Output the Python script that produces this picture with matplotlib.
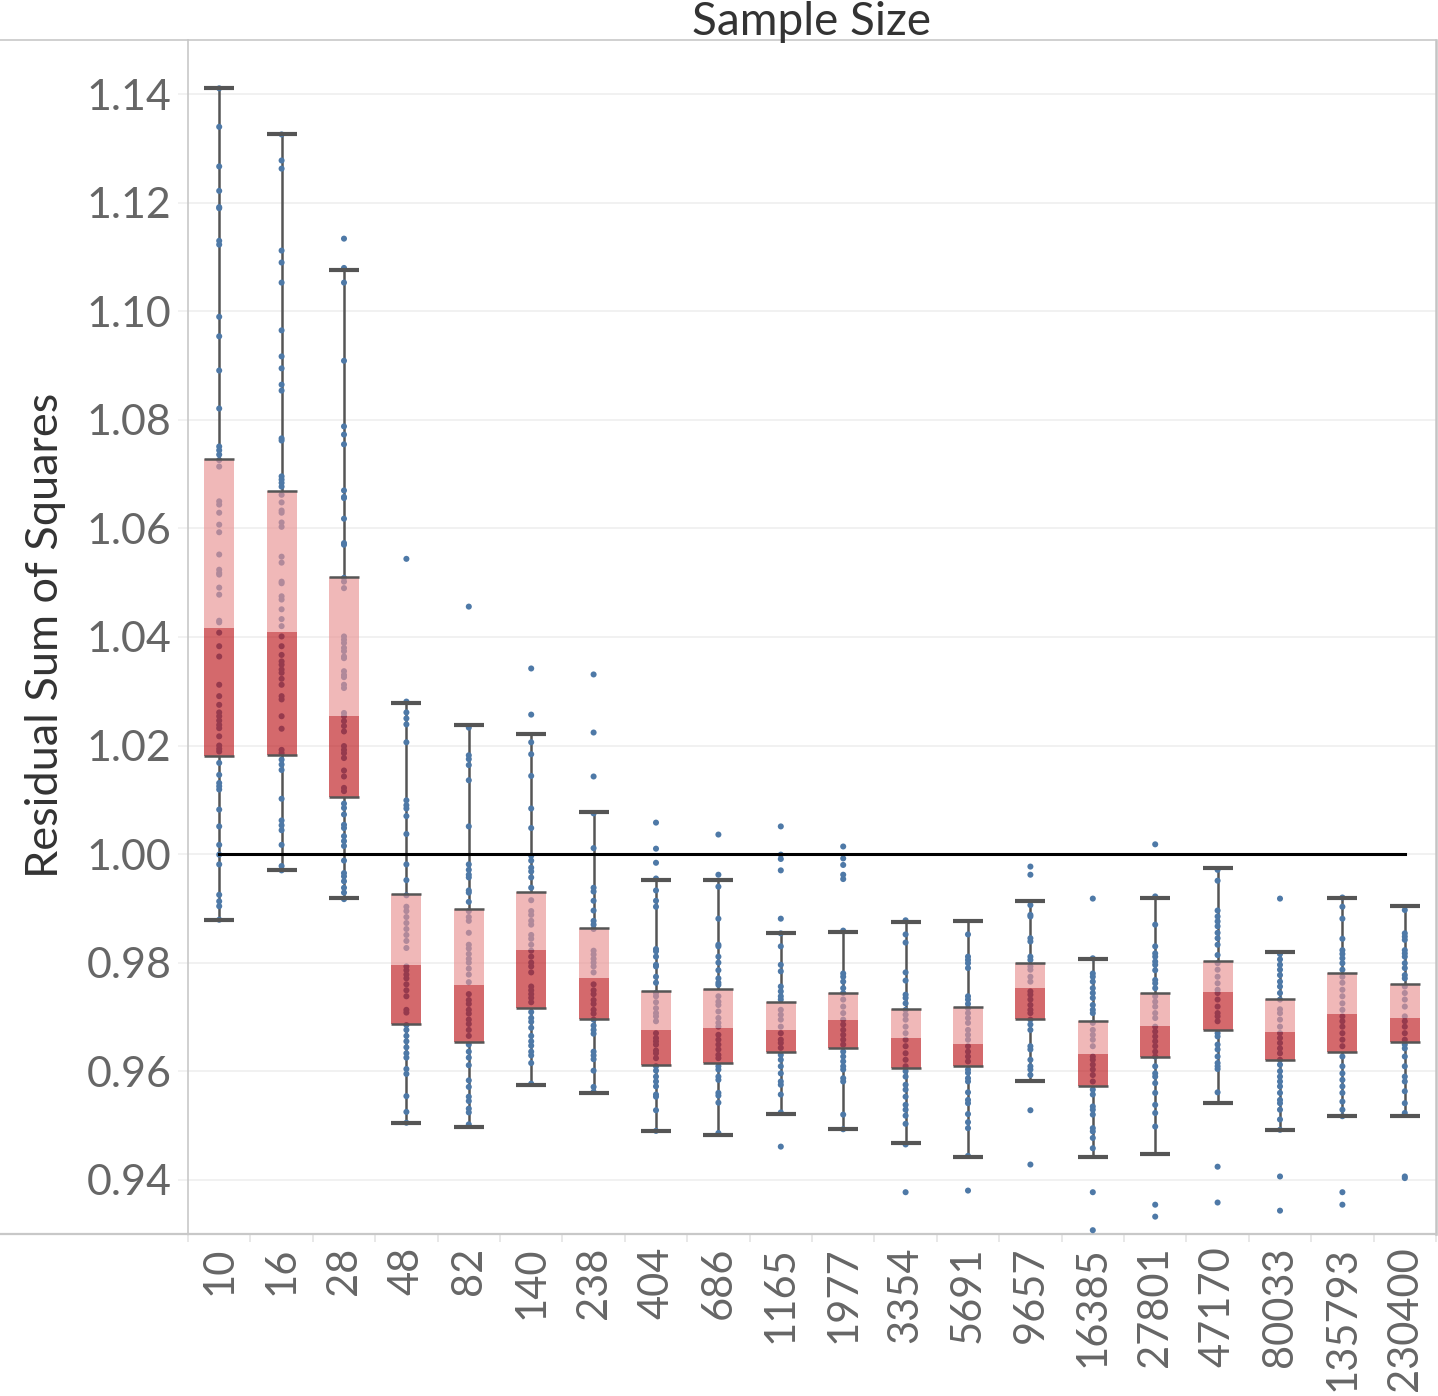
import matplotlib
matplotlib.use("Agg")
import matplotlib.pyplot as plt
from matplotlib.lines import Line2D
import numpy as np

# ---------------- data ----------------
categories = ["10", "16", "28", "48", "82", "140", "238", "404", "686", "1165",
              "1977", "3354", "5691", "9657", "16385", "27801", "47170", "80033",
              "135793", "230400"]

whisker_low = [0.9879, 0.9971, 0.9920, 0.9504, 0.9497, 0.9575, 0.9560, 0.9489, 0.9482, 0.9522,
               0.9493, 0.9467, 0.9441, 0.9581, 0.9441, 0.9448, 0.9541, 0.9492, 0.9518, 0.9518]
q1 = [1.0180, 1.0183, 1.0106, 0.9687, 0.9653, 0.9716, 0.9697, 0.9612, 0.9615, 0.9635,
      0.9642, 0.9606, 0.9609, 0.9697, 0.9572, 0.9627, 0.9675, 0.9620, 0.9635, 0.9653]
median = [1.0416, 1.0409, 1.0254, 0.9795, 0.9758, 0.9824, 0.9772, 0.9676, 0.9679, 0.9676,
          0.9695, 0.9662, 0.9650, 0.9754, 0.9632, 0.9684, 0.9746, 0.9673, 0.9706, 0.9698]
q3 = [1.0728, 1.0669, 1.0511, 0.9926, 0.9899, 0.9930, 0.9863, 0.9748, 0.9752, 0.9727,
      0.9744, 0.9715, 0.9719, 0.9800, 0.9693, 0.9744, 0.9803, 0.9733, 0.9781, 0.9760]
whisker_high = [1.1411, 1.1326, 1.1076, 1.0278, 1.0237, 1.0222, 1.0078, 0.9953, 0.9953, 0.9854,
                0.9857, 0.9875, 0.9876, 0.9913, 0.9806, 0.9920, 0.9975, 0.9820, 0.9920, 0.9905]

pts_10 = [1.1411, 1.1340, 1.1267, 1.1222, 1.1192, 1.1190, 1.1130, 1.1123, 1.0990, 1.0954, 1.0891,
          1.0821, 1.0751, 1.0744, 1.0736, 1.0726, 1.0714, 1.0650, 1.0644, 1.0629, 1.0607, 1.0593,
          1.0552, 1.0524, 1.0518, 1.0515, 1.0491, 1.0478, 1.0430, 1.0427, 1.0408, 1.0383, 1.0364,
          1.0312, 1.0291, 1.0275, 1.0261, 1.0254, 1.0246, 1.0238, 1.0232, 1.0217, 1.0200, 1.0194,
          1.0189, 1.0168, 1.0146, 1.0131, 1.0125, 1.0119, 1.0082, 1.0051, 1.0017, 0.9999, 0.9981,
          0.9925, 0.9913, 0.9904, 0.9879]
pts_16 = [1.1326, 1.1278, 1.1263, 1.1112, 1.1090, 1.1053, 1.0965, 1.0917, 1.0895, 1.0865, 1.0854,
          1.0766, 1.0762, 1.0696, 1.0690, 1.0684, 1.0677, 1.0662, 1.0648, 1.0633, 1.0629, 1.0611,
          1.0603, 1.0548, 1.0537, 1.0502, 1.0499, 1.0475, 1.0469, 1.0451, 1.0433, 1.0420, 1.0401,
          1.0383, 1.0367, 1.0355, 1.0349, 1.0340, 1.0334, 1.0323, 1.0312, 1.0291, 1.0285, 1.0254,
          1.0231, 1.0192, 1.0186, 1.0174, 1.0165, 1.0155, 1.0102, 1.0062, 1.0053, 1.0044, 1.0017,
          0.9978, 0.9970]
pts_28 = [1.1134, 1.1080, 1.1053, 1.0909, 1.0788, 1.0773, 1.0755, 1.0670, 1.0658, 1.0656, 1.0618,
          1.0573, 1.0570, 1.0509, 1.0502, 1.0490, 1.0401, 1.0395, 1.0389, 1.0380, 1.0374, 1.0364,
          1.0361, 1.0337, 1.0330, 1.0326, 1.0312, 1.0306, 1.0260, 1.0254, 1.0245, 1.0236, 1.0226,
          1.0199, 1.0192, 1.0186, 1.0177, 1.0154, 1.0143, 1.0122, 1.0116, 1.0093, 1.0085, 1.0073,
          1.0054, 1.0048, 1.0033, 1.0024, 1.0015, 0.9988, 0.9965, 0.9959, 0.9950, 0.9938, 0.9929,
          0.9917]
pts_48 = [1.0544, 1.0281, 1.0261, 1.0250, 1.0239, 1.0206, 1.0099, 1.0090, 1.0084, 1.0070, 1.0037,
          0.9981, 0.9952, 0.9924, 0.9903, 0.9895, 0.9884, 0.9873, 0.9862, 0.9851, 0.9840, 0.9827,
          0.9793, 0.9786, 0.9778, 0.9771, 0.9760, 0.9749, 0.9738, 0.9713, 0.9708, 0.9685, 0.9676,
          0.9665, 0.9655, 0.9644, 0.9633, 0.9625, 0.9604, 0.9595, 0.9554, 0.9525, 0.9505]
pts_82 = [1.0456, 1.0233, 1.0182, 1.0175, 1.0164, 1.0136, 1.0051, 0.9981, 0.9971, 0.9962, 0.9957,
          0.9933, 0.9929, 0.9912, 0.9895, 0.9884, 0.9877, 0.9855, 0.9833, 0.9826, 0.9816, 0.9807,
          0.9800, 0.9789, 0.9778, 0.9764, 0.9742, 0.9731, 0.9724, 0.9713, 0.9706, 0.9695, 0.9687,
          0.9676, 0.9665, 0.9649, 0.9636, 0.9625, 0.9611, 0.9583, 0.9571, 0.9553, 0.9545, 0.9531,
          0.9524, 0.9502]
pts_140 = [1.0342, 1.0257, 1.0206, 1.0184, 1.0144, 1.0084, 1.0048, 0.9997, 0.9988, 0.9975, 0.9968,
           0.9957, 0.9938, 0.9915, 0.9895, 0.9888, 0.9877, 0.9870, 0.9851, 0.9844, 0.9833, 0.9822,
           0.9811, 0.9800, 0.9793, 0.9782, 0.9756, 0.9749, 0.9742, 0.9735, 0.9727, 0.9709, 0.9698,
           0.9691, 0.9680, 0.9665, 0.9655, 0.9647, 0.9636, 0.9629, 0.9615, 0.9577]
pts_238 = [1.0331, 1.0224, 1.0143, 1.0075, 1.0011, 0.9938, 0.9931, 0.9914, 0.9896, 0.9877, 0.9870,
           0.9862, 0.9822, 0.9815, 0.9807, 0.9800, 0.9793, 0.9782, 0.9760, 0.9749, 0.9742, 0.9731,
           0.9724, 0.9713, 0.9706, 0.9695, 0.9684, 0.9676, 0.9669, 0.9636, 0.9629, 0.9622, 0.9601,
           0.9571, 0.9562]
pts_404 = [1.0058, 1.0010, 0.9984, 0.9955, 0.9933, 0.9914, 0.9903, 0.9825, 0.9821, 0.9811, 0.9796,
           0.9793, 0.9774, 0.9763, 0.9744, 0.9738, 0.9727, 0.9716, 0.9707, 0.9701, 0.9692, 0.9670,
           0.9661, 0.9655, 0.9649, 0.9638, 0.9633, 0.9624, 0.9609, 0.9601, 0.9590, 0.9581, 0.9572,
           0.9557, 0.9553, 0.9528, 0.9490]
pts_686 = [1.0036, 0.9962, 0.9940, 0.9881, 0.9833, 0.9830, 0.9811, 0.9800, 0.9786, 0.9771, 0.9763,
           0.9759, 0.9738, 0.9728, 0.9722, 0.9710, 0.9698, 0.9689, 0.9682, 0.9667, 0.9658, 0.9649,
           0.9640, 0.9630, 0.9624, 0.9609, 0.9603, 0.9590, 0.9584, 0.9560, 0.9555, 0.9542, 0.9486]
pts_1165 = [1.0051, 0.9999, 0.9991, 0.9970, 0.9881, 0.9854, 0.9830, 0.9796, 0.9784, 0.9756, 0.9747,
            0.9738, 0.9732, 0.9713, 0.9704, 0.9695, 0.9682, 0.9670, 0.9658, 0.9652, 0.9643, 0.9630,
            0.9621, 0.9609, 0.9596, 0.9581, 0.9575, 0.9557, 0.9524, 0.9461]
pts_1977 = [1.0014, 0.9992, 0.9980, 0.9962, 0.9954, 0.9859, 0.9780, 0.9774, 0.9765, 0.9753, 0.9744,
            0.9732, 0.9719, 0.9707, 0.9695, 0.9686, 0.9676, 0.9667, 0.9658, 0.9649, 0.9636, 0.9627,
            0.9618, 0.9609, 0.9603, 0.9587, 0.9581, 0.9520, 0.9493]
pts_3354 = [0.9878, 0.9852, 0.9837, 0.9782, 0.9767, 0.9741, 0.9735, 0.9725, 0.9713, 0.9704, 0.9695,
            0.9682, 0.9670, 0.9658, 0.9646, 0.9633, 0.9621, 0.9609, 0.9600, 0.9590, 0.9575, 0.9566,
            0.9553, 0.9538, 0.9529, 0.9518, 0.9503, 0.9465, 0.9377]
pts_5691 = [0.9852, 0.9811, 0.9805, 0.9799, 0.9790, 0.9738, 0.9732, 0.9724, 0.9716, 0.9707, 0.9698,
            0.9689, 0.9676, 0.9667, 0.9658, 0.9646, 0.9636, 0.9627, 0.9618, 0.9603, 0.9597, 0.9587,
            0.9581, 0.9561, 0.9547, 0.9541, 0.9521, 0.9506, 0.9495, 0.9444, 0.9380]
pts_9657 = [0.9977, 0.9962, 0.9906, 0.9888, 0.9885, 0.9845, 0.9839, 0.9811, 0.9805, 0.9793, 0.9787,
            0.9774, 0.9765, 0.9747, 0.9741, 0.9732, 0.9722, 0.9713, 0.9707, 0.9695, 0.9686, 0.9676,
            0.9646, 0.9640, 0.9621, 0.9609, 0.9603, 0.9593, 0.9528, 0.9428]
pts_16385 = [0.9918, 0.9808, 0.9780, 0.9774, 0.9765, 0.9753, 0.9744, 0.9735, 0.9722, 0.9713, 0.9707,
             0.9689, 0.9676, 0.9667, 0.9658, 0.9646, 0.9627, 0.9621, 0.9612, 0.9603, 0.9593, 0.9581,
             0.9566, 0.9557, 0.9535, 0.9529, 0.9520, 0.9495, 0.9489, 0.9477, 0.9458, 0.9377, 0.9307]
pts_27801 = [1.0018, 0.9922, 0.9870, 0.9830, 0.9817, 0.9811, 0.9802, 0.9796, 0.9786, 0.9768, 0.9762,
             0.9753, 0.9738, 0.9728, 0.9719, 0.9707, 0.9698, 0.9682, 0.9673, 0.9664, 0.9655, 0.9646,
             0.9636, 0.9627, 0.9609, 0.9596, 0.9590, 0.9578, 0.9560, 0.9538, 0.9523, 0.9498, 0.9354,
             0.9332]
pts_47170 = [0.9971, 0.9951, 0.9896, 0.9885, 0.9876, 0.9867, 0.9855, 0.9845, 0.9833, 0.9814, 0.9799,
             0.9787, 0.9774, 0.9762, 0.9750, 0.9744, 0.9732, 0.9719, 0.9707, 0.9701, 0.9692, 0.9670,
             0.9664, 0.9649, 0.9640, 0.9627, 0.9615, 0.9609, 0.9604, 0.9561, 0.9424, 0.9358]
pts_80033 = [0.9918, 0.9816, 0.9806, 0.9796, 0.9787, 0.9777, 0.9765, 0.9756, 0.9744, 0.9732, 0.9714,
             0.9707, 0.9695, 0.9682, 0.9670, 0.9661, 0.9652, 0.9642, 0.9633, 0.9621, 0.9612, 0.9600,
             0.9590, 0.9581, 0.9572, 0.9560, 0.9547, 0.9541, 0.9529, 0.9511, 0.9492, 0.9406, 0.9343]
pts_135793 = [0.9920, 0.9903, 0.9881, 0.9844, 0.9823, 0.9816, 0.9808, 0.9799, 0.9787, 0.9774, 0.9763,
              0.9750, 0.9738, 0.9725, 0.9713, 0.9701, 0.9692, 0.9682, 0.9670, 0.9658, 0.9646, 0.9627,
              0.9609, 0.9596, 0.9584, 0.9572, 0.9560, 0.9544, 0.9529, 0.9517, 0.9377, 0.9354]
pts_230400 = [0.9897, 0.9854, 0.9848, 0.9842, 0.9823, 0.9817, 0.9811, 0.9799, 0.9790, 0.9777, 0.9771,
              0.9756, 0.9744, 0.9732, 0.9719, 0.9701, 0.9692, 0.9682, 0.9670, 0.9658, 0.9649, 0.9642,
              0.9627, 0.9609, 0.9590, 0.9581, 0.9563, 0.9541, 0.9523, 0.9406, 0.9403]

points = [pts_10, pts_16, pts_28, pts_48, pts_82, pts_140, pts_238, pts_404, pts_686, pts_1165,
          pts_1977, pts_3354, pts_5691, pts_9657, pts_16385, pts_27801, pts_47170, pts_80033,
          pts_135793, pts_230400]

reference_value = 1.0
y_ticks = [0.94, 0.96, 0.98, 1.00, 1.02, 1.04, 1.06, 1.08, 1.10, 1.12, 1.14]

# ---------------- style ----------------
FONT = ["Lato", "DejaVu Sans"]
plt.rcParams["font.family"] = FONT

W, H = 1438, 1396
fig = plt.figure(figsize=(W / 100, H / 100), dpi=100)
left_px, right_px, top_px, bottom_px = 188, 1436, 40, 1234
ax = fig.add_axes([left_px / W, 1 - bottom_px / H, (right_px - left_px) / W, (bottom_px - top_px) / H])

light_col = "#e89293"
dark_col = "#bd181d"
box_alpha = 0.65
dot_col = "#4e79a7"
whisk_col = "#555555"
box_w = 0.48

x = np.arange(len(categories))

# whiskers
ax.vlines(x, whisker_low, q1, color=whisk_col, lw=1.8, zorder=2)
ax.vlines(x, q3, whisker_high, color=whisk_col, lw=1.8, zorder=2)

# dots
for i, pts in enumerate(points):
    ax.scatter(np.full(len(pts), x[i]), pts, s=19, color=dot_col, edgecolors="none", zorder=3)

# boxes
ax.bar(x, np.array(median) - np.array(q1), bottom=q1, width=box_w, color=dark_col,
       alpha=box_alpha, lw=0, zorder=4)
ax.bar(x, np.array(q3) - np.array(median), bottom=median, width=box_w, color=light_col,
       alpha=box_alpha, lw=0, zorder=4)
# box edges & caps
ax.hlines(q1, x - box_w / 2, x + box_w / 2, color=whisk_col, lw=1.8, zorder=5)
ax.hlines(q3, x - box_w / 2, x + box_w / 2, color=whisk_col, lw=1.8, zorder=5)
ax.hlines(whisker_low, x - box_w / 2, x + box_w / 2, color=whisk_col, lw=3.0, zorder=5)
ax.hlines(whisker_high, x - box_w / 2, x + box_w / 2, color=whisk_col, lw=3.0, zorder=5)

# reference line
ax.plot([x[0], x[-1]], [reference_value, reference_value], color="black", lw=2.2, zorder=6)

# axes
ax.set_xlim(-0.5, len(categories) - 0.5)
ax.set_ylim(0.93, 1.15)
ax.set_yticks(y_ticks)
ax.set_yticklabels([f"{v:.2f}" for v in y_ticks])
ax.set_xticks(x)
ax.set_xticklabels(categories, rotation=90, va="top", ha="center")
ax.set_xticks(np.arange(len(categories) + 1) - 0.5, minor=True)
ax.tick_params(axis="x", which="major", length=0, pad=9, labelsize=30, labelcolor="#666666")
ax.tick_params(axis="x", which="minor", length=6, width=1.2, color="#e4e4e4")
ax.tick_params(axis="y", which="major", length=7, width=1.2, color="#f0f0f0", pad=5,
               labelsize=31, labelcolor="#666666")
ax.yaxis.grid(True, color="#efefef", lw=1.2)
ax.set_axisbelow(True)

for s in ["left", "top", "bottom"]:
    ax.spines[s].set_color("#c8c8c8")
    ax.spines[s].set_linewidth(1.2)
ax.spines["right"].set_color("#c4c4c4")
ax.spines["right"].set_linewidth(1.8)
ax.spines["bottom"].set_linewidth(1.6)

# extended header/footer lines
fig.add_artist(Line2D([0, left_px / W], [1 - top_px / H] * 2, transform=fig.transFigure,
                      color="#c8c8c8", lw=1.2))
fig.add_artist(Line2D([0, left_px / W], [1 - bottom_px / H] * 2, transform=fig.transFigure,
                      color="#c8c8c8", lw=1.6))

fig.text((left_px + right_px) / 2 / W, 1 - 22 / H, "Sample Size", ha="center", va="center",
         fontsize=33, color="#333333")
fig.text(46 / W, 1 - 635 / H, "Residual Sum of Squares", rotation=90, ha="center", va="center",
         fontsize=32.5, color="#333333")

fig.savefig("out.png", dpi=100)
